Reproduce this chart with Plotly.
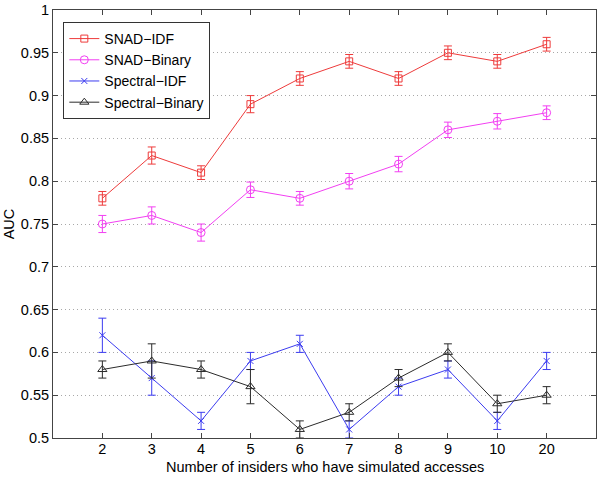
import plotly.graph_objects as go

categories = ["2", "3", "4", "5", "6", "7", "8", "9", "10", "20"]

snad_idf = [0.78, 0.83, 0.81, 0.89, 0.92, 0.94, 0.92, 0.95, 0.94, 0.96]
snad_idf_err = [0.008, 0.01, 0.008, 0.01, 0.008, 0.008, 0.008, 0.008, 0.008, 0.008]

snad_bin = [0.75, 0.76, 0.74, 0.79, 0.78, 0.80, 0.82, 0.86, 0.87, 0.88]
snad_bin_err = [0.01, 0.01, 0.01, 0.009, 0.008, 0.009, 0.009, 0.009, 0.009, 0.008]

spec_idf = [0.62, 0.57, 0.52, 0.59, 0.61, 0.51, 0.56, 0.58, 0.52, 0.59]
spec_idf_err = [0.02, 0.02, 0.01, 0.01, 0.01, 0.01, 0.01, 0.01, 0.01, 0.01]

spec_bin = [0.58, 0.59, 0.58, 0.56, 0.51, 0.53, 0.57, 0.60, 0.54, 0.55]
spec_bin_err = [0.01, 0.02, 0.01, 0.02, 0.01, 0.01, 0.01, 0.01, 0.01, 0.01]

y_ticks = [0.5, 0.55, 0.6, 0.65, 0.7, 0.75, 0.8, 0.85, 0.9, 0.95, 1.0]
y_ticktext = ["0.5", "0.55", "0.6", "0.65", "0.7", "0.75", "0.8", "0.85", "0.9", "0.95", "1"]

x_title = "Number of insiders who have simulated accesses"
y_title = "AUC"

xpos = list(range(1, len(categories) + 1))

series = [
    ("SNAD\u2212IDF", snad_idf, snad_idf_err, "#ee3b3b", "square-open", 7),
    ("SNAD\u2212Binary", snad_bin, snad_bin_err, "#f23ff2", "circle-open", 8),
    ("Spectral\u2212IDF", spec_idf, spec_idf_err, "#3c3cf0", "x-thin-open", 6),
    ("Spectral\u2212Binary", spec_bin, spec_bin_err, "#2b2b2b", "triangle-up-open", 8),
]

fig = go.Figure()
for name, vals, errs, color, sym, size in series:
    fig.add_trace(go.Scatter(
        x=xpos, y=vals, name=name, mode="lines+markers",
        line=dict(color=color, width=1),
        marker=dict(symbol=sym, size=size, color=color, line=dict(color=color, width=1)),
        error_y=dict(type="data", array=errs, visible=True, color=color, thickness=1, width=4),
    ))

font_family = "Liberation Sans, Arial, Helvetica, sans-serif"

fig.update_layout(
    width=602, height=477,
    margin=dict(l=53, r=6, t=10, b=39, autoexpand=False),
    paper_bgcolor="white", plot_bgcolor="white",
    font=dict(family=font_family, size=14.5, color="black"),
    showlegend=True,
    legend=dict(
        x=0.019, y=0.972, xanchor="left", yanchor="top",
        bgcolor="white", bordercolor="#333333", borderwidth=1,
        font=dict(size=14, family=font_family),
        tracegroupgap=0,
    ),
    annotations=[
        dict(text=x_title, xref="paper", yref="paper", x=0.5, y=0,
             xanchor="center", yanchor="top", yshift=-19, showarrow=False,
             font=dict(size=14.5, family=font_family, color="black")),
    ],
)

fig.update_xaxes(
    range=[0, 11], tickmode="array", tickvals=xpos, ticktext=categories,
    showgrid=False, zeroline=False, automargin=False,
    showline=True, linecolor="#444444", linewidth=1, mirror="ticks",
    ticks="inside", ticklen=5, tickcolor="#444444",
    tickfont=dict(size=14.5), ticklabelstandoff=-2,
)
fig.update_yaxes(
    range=[0.5, 1.0], tickmode="array", tickvals=y_ticks, ticktext=y_ticktext,
    showgrid=True, gridcolor="#a8a8a8", griddash="1px,3px", gridwidth=1, zeroline=False, automargin=False,
    showline=True, linecolor="#444444", linewidth=1, mirror="ticks",
    ticks="inside", ticklen=5, tickcolor="#444444",
    tickfont=dict(size=14.5),
    title=dict(text=y_title, font=dict(size=14.5), standoff=2),
)

fig.write_html("out.html", config={"displayModeBar": False},
               post_script="document.body.style.margin='0px';document.body.style.padding='0px';")
